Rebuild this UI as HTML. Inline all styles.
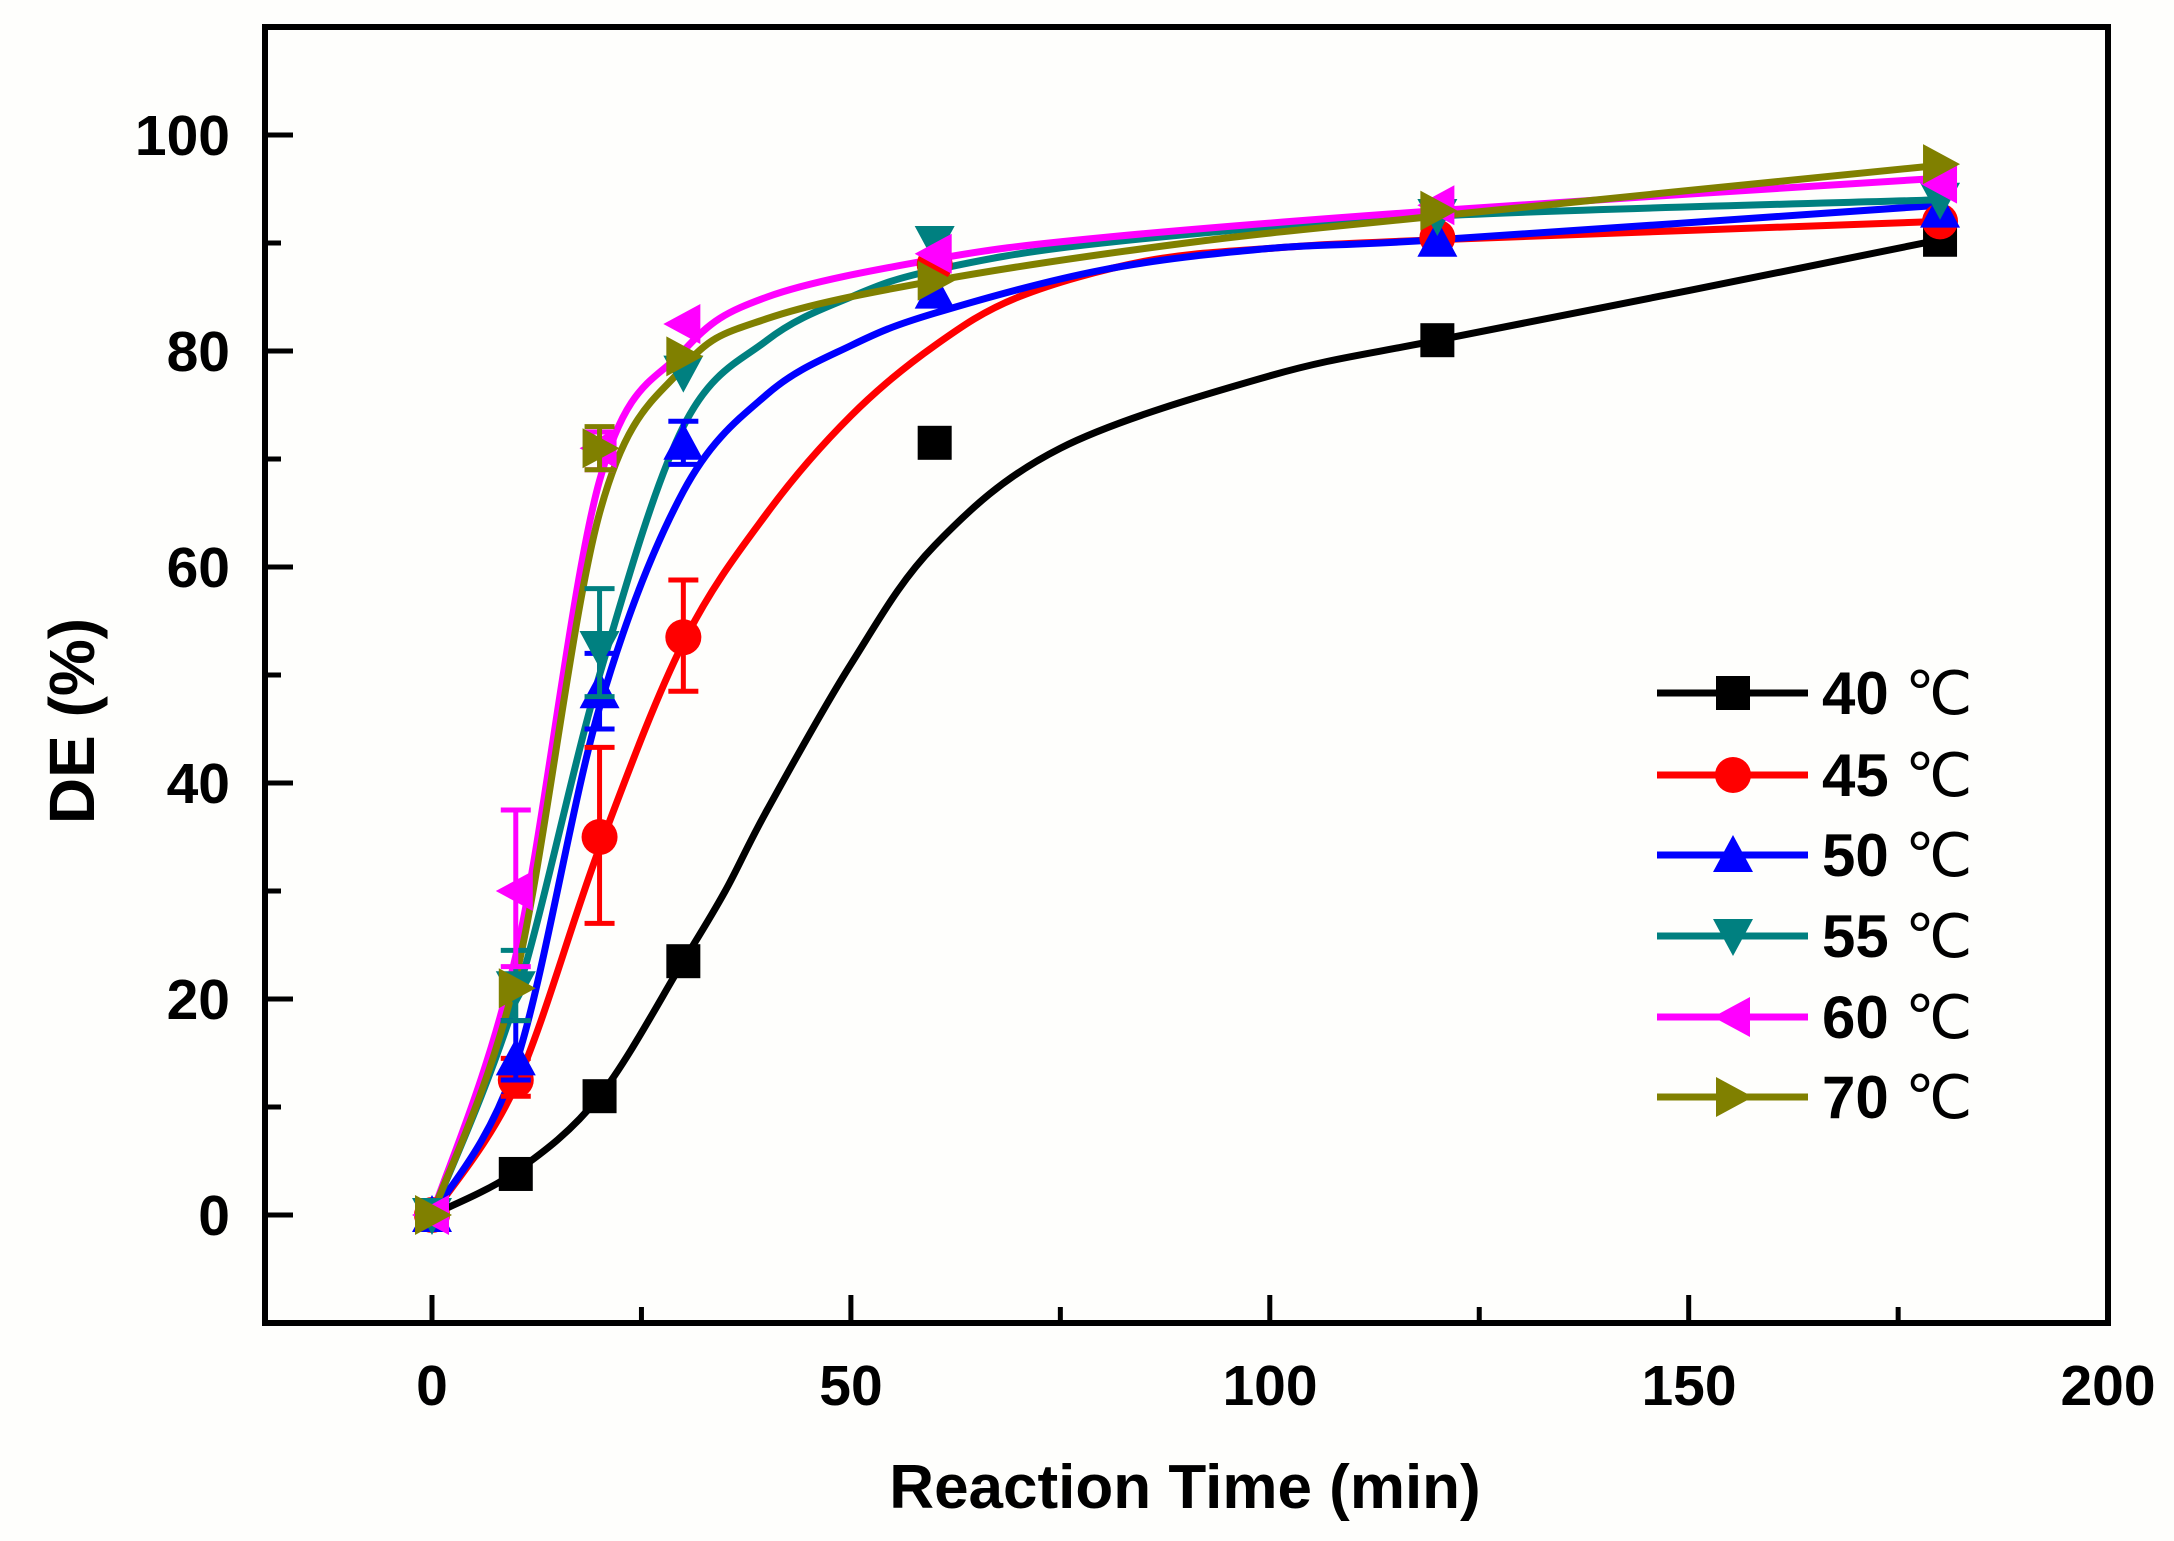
<!DOCTYPE html>
<html><head><meta charset="utf-8"><style>
html,body{margin:0;padding:0;background:#fff;}
svg{display:block;}
text{font-family:"Liberation Sans",Arial,sans-serif;}
</style></head><body>
<svg id="s" width="2174" height="1541" viewBox="0 0 2174 1541" xmlns="http://www.w3.org/2000/svg">
<rect width="2174" height="1541" fill="#fefefc"/>
<g id="curves"></g>
<g id="marks"></g>
<rect x="265" y="27" width="1843" height="1296" fill="none" stroke="#000" stroke-width="6"/>
<g id="ticks" stroke="#000" stroke-width="5"></g>
<g font-weight="bold" font-size="57" fill="#000" text-anchor="end">
<text x="230" y="155">100</text>
<text x="230" y="371">80</text>
<text x="230" y="587">60</text>
<text x="230" y="803">40</text>
<text x="230" y="1019">20</text>
<text x="230" y="1235">0</text>
</g>
<g font-weight="bold" font-size="57" fill="#000" text-anchor="middle">
<text x="432" y="1405">0</text>
<text x="851" y="1405">50</text>
<text x="1270" y="1405">100</text>
<text x="1689" y="1405">150</text>
<text x="2108" y="1405">200</text>
</g>
<text x="1185" y="1508" font-weight="bold" font-size="62" text-anchor="middle">Reaction Time (min)</text>
<text transform="translate(94,721) rotate(-90)" font-weight="bold" font-size="64" text-anchor="middle">DE (%)</text>
<g id="legend"></g>
<g font-size="60" fill="#000">
<text x="1822" y="714" font-weight="bold">40</text><text x="1905" y="714">℃</text>
<text x="1822" y="796" font-weight="bold">45</text><text x="1905" y="796">℃</text>
<text x="1822" y="876" font-weight="bold">50</text><text x="1905" y="876">℃</text>
<text x="1822" y="957" font-weight="bold">55</text><text x="1905" y="957">℃</text>
<text x="1822" y="1038" font-weight="bold">60</text><text x="1905" y="1038">℃</text>
<text x="1822" y="1118" font-weight="bold">70</text><text x="1905" y="1118">℃</text>
</g>
</svg>
<script>
const NS="http://www.w3.org/2000/svg";
const X=t=>432+8.378*t, Y=v=>1215-10.8*v;
function el(p,tag,a){const e=document.createElementNS(NS,tag);for(const k in a)e.setAttribute(k,a[k]);p.appendChild(e);return e;}
const tk=document.getElementById('ticks');
for(let v=0;v<=100;v+=10){ const len=(v%20===0)?28:16; el(tk,'line',{x1:265,x2:265+len,y1:Y(v),y2:Y(v)});}
for(let t=0;t<200;t+=25){ const len=(t%50===0)?28:16; el(tk,'line',{x1:X(t),x2:X(t),y1:1323,y2:1323-len});}
const S=[
 {c:"#000",m:"sq",pts:[[0,0],[10,3.8],[20,11],[30,23.5],[60,71.5],[120,81],[180,90.3]],
  cv:[[0,0],[10,4],[20,11],[30,23.5],[35,30],[40,37.5],[50,51],[60,62],[75,71],[100,77.7],[120,81],[150,85.6],[180,90.3]],eb:[]},
 {c:"#ff0000",m:"ci",pts:[[0,0],[10,12.5],[20,35],[30,53.5],[60,88],[120,90.5],[180,92]],
  cv:[[0,0],[10,12],[20,34],[30,53],[40,65],[50,74],[60,80.5],[70,85],[85,88.3],[100,89.5],[120,90.3],[180,92]],eb:[[10,11,14.5],[20,27,43.3],[30,48.5,58.8]]},
 {c:"#0000ff",m:"tu",pts:[[0,0],[10,14.5],[20,48.5],[30,71.5],[60,85.5],[120,90.3],[180,93]],
  cv:[[0,0],[10,14],[20,47],[30,67],[40,76],[50,80.5],[60,83.5],[80,87.5],[100,89.5],[120,90.3],[180,93.5]],eb:[[10,12.5,18],[20,45,52],[30,69.5,73.5]]},
 {c:"#008080",m:"td",pts:[[0,0],[10,21],[20,52.5],[30,78],[60,90],[120,92.5],[180,94]],
  cv:[[0,0],[10,20],[20,50],[30,73],[40,81],[50,85],[60,87.5],[80,90],[120,92.5],[180,94]],eb:[[10,18,24.5],[20,48,58]]},
 {c:"#ff00ff",m:"tl",pts:[[0,0],[10,30],[20,71],[30,82.5],[60,89],[120,93.5],[180,95.5]],
  cv:[[0,0],[10,24],[20,68],[30,80],[40,85],[60,88.5],[80,90.5],[120,93],[180,96]],eb:[[10,23,37.5],[20,69,72.5]]},
 {c:"#808000",m:"tr",pts:[[0,0],[10,21],[20,71],[30,79.5],[60,86.5],[120,93],[180,97.3]],
  cv:[[0,0],[10,22],[20,65],[30,78.5],[40,83],[60,86.5],[90,90],[120,92.5],[180,97.2]],eb:[[20,69,73]]}
];
function cr(pts){const P=pts.map(p=>[X(p[0]),Y(p[1])]);let d="M"+P[0][0]+","+P[0][1];
 for(let i=0;i<P.length-1;i++){const p0=P[Math.max(0,i-1)],p1=P[i],p2=P[i+1],p3=P[Math.min(P.length-1,i+2)];
 const c1=[p1[0]+(p2[0]-p0[0])/6,p1[1]+(p2[1]-p0[1])/6],c2=[p2[0]-(p3[0]-p1[0])/6,p2[1]-(p3[1]-p1[1])/6];
 d+=" C"+c1+" "+c2+" "+p2;}return d;}
function mark(g,m,x,y,c){const s=17;
 if(m=="sq")el(g,'rect',{x:x-s,y:y-s,width:2*s,height:2*s,fill:c});
 else if(m=="ci")el(g,'circle',{cx:x,cy:y,r:s+1,fill:c});
 else if(m=="tu")el(g,'polygon',{points:`${x},${y-s-3} ${x-s-3},${y+s} ${x+s+3},${y+s}`,fill:c});
 else if(m=="td")el(g,'polygon',{points:`${x},${y+s+3} ${x-s-3},${y-s} ${x+s+3},${y-s}`,fill:c});
 else if(m=="tl")el(g,'polygon',{points:`${x-s-3},${y} ${x+s},${y-s-3} ${x+s},${y+s+3}`,fill:c});
 else el(g,'polygon',{points:`${x+s+3},${y} ${x-s},${y-s-3} ${x-s},${y+s+3}`,fill:c});}
const cg=document.getElementById('curves'),mg=document.getElementById('marks'),lg=document.getElementById('legend');
S.forEach((s,i)=>{
 el(cg,'path',{d:cr(s.cv),fill:"none",stroke:s.c,"stroke-width":7});
 s.eb.forEach(e=>{const x=X(e[0]);el(mg,'line',{x1:x,x2:x,y1:Y(e[1]),y2:Y(e[2]),stroke:s.c,"stroke-width":5});
  [e[1],e[2]].forEach(v=>el(mg,'line',{x1:x-15,x2:x+15,y1:Y(v),y2:Y(v),stroke:s.c,"stroke-width":5}));});
 s.pts.forEach(p=>mark(mg,s.m,X(p[0]),Y(p[1]),s.c));
 const ly=[693,775,855,936,1017,1097][i];
 el(lg,'line',{x1:1657,x2:1808,y1:ly,y2:ly,stroke:s.c,"stroke-width":7});
 mark(lg,s.m,1733,ly,s.c);
});
</script>
</body></html>
